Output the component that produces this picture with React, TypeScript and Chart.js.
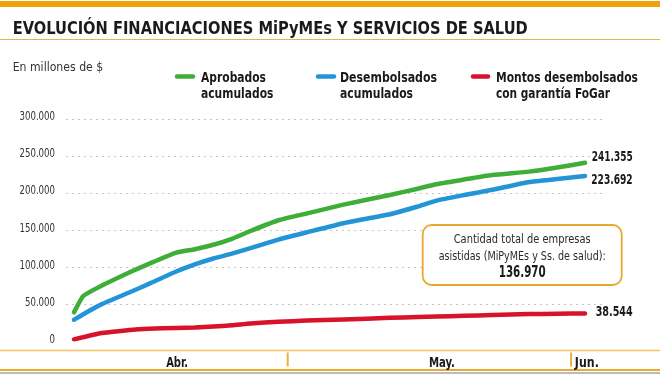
import React, { useEffect, useRef } from "react";
import { Chart, registerables } from "chart.js";

Chart.register(...registerables);

// Day number (1 = 1 April)
const days = [8, 9, 11, 14, 16, 19, 21, 23, 25, 27, 30, 33, 37, 42, 45, 47, 50, 53, 57, 60, 63];
const aprobados = [40000, 62000, 76000, 94000, 105000, 120500, 125000, 131000, 139000, 149500, 164000, 173000, 185000, 198000, 206500, 212500, 219000, 225000, 229500, 235000, 241355];
const desembolsados = [30000, 37500, 51000, 67000, 78000, 95000, 104500, 112500, 119000, 126500, 138000, 147500, 160000, 172000, 182500, 190500, 198000, 205000, 215500, 219500, 223692];
const fogar = [3600, 6500, 12000, 16300, 18000, 19000, 19500, 20800, 22500, 25000, 27200, 28900, 30300, 32600, 33600, 34200, 35400, 36300, 37600, 38100, 38544];

const yTicks = [0, 50000, 100000, 150000, 200000, 250000, 300000];
const monthNames = ["Abr.", "May.", "Jun."];
const monthLabelDays = [19.1, 47.6, 63.2];
const monthBoundaryDays = [31, 61.5];

const seriesNames = [
  ["Aprobados", "acumulados"],
  ["Desembolsados", "acumulados"],
  ["Montos desembolsados", "con garantía FoGar"],
];
const titleText = "EVOLUCIÓN FINANCIACIONES MiPyMEs Y SERVICIOS DE SALUD";
const unitLabel = "En millones de $";
const boxLines = ["Cantidad total de empresas", "asistidas (MiPyMEs y Ss. de salud):"];
const totalEmpresas = 136970;

const GREEN = "#3fae38";
const BLUE = "#2395d6";
const RED = "#d7122b";
const ORANGE = "#f0a20c";
const GOLD = "#eab24c";
const NARROW = '"Liberation Sans Narrow", "DejaVu Sans Condensed", "Roboto Condensed", Roboto, sans-serif';

const fmt = (v: number) => Math.round(v).toString().replace(/\B(?=(\d{3})+(?!\d))/g, ".");

function fitText(
  ctx: CanvasRenderingContext2D,
  text: string,
  x: number,
  y: number,
  font: string,
  color: string,
  width: number | null,
  align: "left" | "center" | "right" = "left",
  baseline: CanvasTextBaseline = "alphabetic",
  scaleX?: number
) {
  ctx.save();
  ctx.font = font;
  ctx.fillStyle = color;
  ctx.textBaseline = baseline;
  ctx.textAlign = "left";
  const w = ctx.measureText(text).width;
  const sx = scaleX ? scaleX : width ? width / w : 1;
  const dw = w * sx;
  const x0 = align === "left" ? x : align === "center" ? x - dw / 2 : x - dw;
  ctx.translate(x0, y);
  ctx.scale(sx, 1);
  ctx.fillText(text, 0, 0);
  ctx.restore();
}

const decor = {
  id: "decor",
  beforeDraw(chart: any) {
    const ctx = chart.ctx as CanvasRenderingContext2D;
    ctx.save();
    ctx.fillStyle = "#ffffff";
    ctx.fillRect(0, 0, chart.width, chart.height);
    ctx.restore();
  },
  afterDraw(chart: any) {
    const ctx = chart.ctx as CanvasRenderingContext2D;
    const xs = chart.scales.x;
    const ys = chart.scales.y;
    const W = chart.width;

    // top orange bar
    ctx.save();
    ctx.fillStyle = ORANGE;
    ctx.fillRect(0, 1, W, 6);
    ctx.strokeStyle = GOLD;
    ctx.lineWidth = 1.2;
    ctx.beginPath();
    ctx.moveTo(0, 39.5);
    ctx.lineTo(W, 39.5);
    ctx.stroke();
    ctx.restore();

    // title
    fitText(ctx, titleText, 12.7, 34, `bold 18.5px ${NARROW}`, "#1a1a1a", 515);
    fitText(ctx, unitLabel, 12.7, 70.7, `12.5px ${NARROW}`, "#333333", 90.5);

    // y tick labels (positions from the y scale)
    ctx.save();
    ctx.font = `13px ${NARROW}`;
    const tickSx = 35.5 / ctx.measureText("300.000").width;
    ctx.restore();
    yTicks.forEach((v) => {
      const y = ys.getPixelForValue(v) - 2.5;
      fitText(ctx, fmt(v), 55, y, `13px ${NARROW}`, "#333333", null, "right", "middle", tickSx);
    });

    // legend
    const legendCols = [
      { color: GREEN, x1: 175, x2: 195, tx: 201, widths: [65, 72.5] },
      { color: BLUE, x1: 316, x2: 336, tx: 340, widths: [97, 73] },
      { color: RED, x1: 471, x2: 490, tx: 496, widths: [142, 114] },
    ];
    legendCols.forEach((c, i) => {
      ctx.save();
      ctx.strokeStyle = c.color;
      ctx.lineWidth = 4.5;
      ctx.lineCap = "round";
      ctx.beginPath();
      ctx.moveTo(c.x1 + 2, 76.5);
      ctx.lineTo(c.x2 - 2, 76.5);
      ctx.stroke();
      ctx.restore();
      fitText(ctx, seriesNames[i][0], c.tx, 82, `bold 14px ${NARROW}`, "#1a1a1a", c.widths[0]);
      fitText(ctx, seriesNames[i][1], c.tx, 97.7, `bold 14px ${NARROW}`, "#1a1a1a", c.widths[1]);
    });

    // end labels
    const ends = [
      { v: aprobados[aprobados.length - 1], dy: -5.5, w: 41 },
      { v: desembolsados[desembolsados.length - 1], dy: 5, w: 41.5 },
      { v: fogar[fogar.length - 1], dy: -0.5, w: 37 },
    ];
    ends.forEach((e) => {
      const y = ys.getPixelForValue(e.v) + e.dy;
      fitText(ctx, fmt(e.v), 632.7, y, `bold 13.5px ${NARROW}`, "#1a1a1a", e.w, "right", "middle");
    });

    // info box
    const bx = 422.7, by = 225, bw = 199, bh = 60, r = 9;
    ctx.save();
    ctx.beginPath();
    ctx.roundRect(bx, by, bw, bh, r);
    ctx.fillStyle = "#ffffff";
    ctx.fill();
    ctx.strokeStyle = "#e9a92e";
    ctx.lineWidth = 1.8;
    ctx.stroke();
    ctx.restore();
    const cx = bx + bw / 2;
    fitText(ctx, boxLines[0], cx, 243.3, `13px ${NARROW}`, "#2a2a2a", 137, "center");
    fitText(ctx, boxLines[1], cx, 260, `13px ${NARROW}`, "#2a2a2a", 167, "center");
    fitText(ctx, fmt(totalEmpresas), cx, 277.3, `bold 15.5px ${NARROW}`, "#1a1a1a", 47, "center");

    // x band
    ctx.save();
    ctx.strokeStyle = "#f3c46a";
    ctx.lineWidth = 1.5;
    ctx.beginPath();
    ctx.moveTo(0, 350.5);
    ctx.lineTo(W, 350.5);
    ctx.stroke();
    ctx.strokeStyle = "#eeaa30";
    ctx.lineWidth = 2.2;
    ctx.beginPath();
    ctx.moveTo(0, 370);
    ctx.lineTo(W, 370);
    ctx.stroke();
    ctx.strokeStyle = "#a5a5a5";
    ctx.lineWidth = 1.5;
    ctx.beginPath();
    ctx.moveTo(0, 373);
    ctx.lineTo(W, 373);
    ctx.stroke();
    ctx.strokeStyle = "#f0b040";
    ctx.lineWidth = 2;
    monthBoundaryDays.forEach((d) => {
      const x = xs.getPixelForValue(d);
      ctx.beginPath();
      ctx.moveTo(x, 352.5);
      ctx.lineTo(x, 366.5);
      ctx.stroke();
    });
    ctx.restore();
    const mw = [22, 26, 24];
    monthNames.forEach((m, i) => {
      const x = xs.getPixelForValue(monthLabelDays[i]);
      fitText(ctx, m, x, 366.5, `bold 14px ${NARROW}`, "#1a1a1a", mw[i], "center");
    });
  },
};

export default function App() {
  const ref = useRef<HTMLCanvasElement | null>(null);
  useEffect(() => {
    if (!ref.current) return;
    const mk = (data: number[], color: string) => ({
      data: days.map((d, i) => ({ x: d, y: data[i] })),
      borderColor: color,
      backgroundColor: color,
      borderWidth: 4.5,
      pointRadius: 0,
      tension: 0.15,
      borderCapStyle: "round" as const,
      borderJoinStyle: "round" as const,
      fill: false,
    });
    const chart = new Chart(ref.current, {
      type: "line",
      data: {
        datasets: [
          { label: seriesNames[2].join(" "), ...mk(fogar, RED) },
          { label: seriesNames[1].join(" "), ...mk(desembolsados, BLUE) },
          { label: seriesNames[0].join(" "), ...mk(aprobados, GREEN) },
        ],
      },
      options: {
        responsive: false,
        animation: false,
        devicePixelRatio: 1,
        layout: { padding: { left: 0, right: 55, top: 119.3, bottom: 35 } },
        plugins: {
          legend: { display: false },
          tooltip: { enabled: false },
          title: { display: false },
        },
        scales: {
          x: { type: "linear", min: 7.139, max: 65.152, display: false },
          y: {
            min: 0,
            max: 300000,
            afterFit: (s: any) => {
              s.width = 66;
            },
            afterBuildTicks: (s: any) => {
              s.ticks = yTicks.map((v) => ({ value: v }));
            },
            grid: {
              color: (c: any) => (c.tick && c.tick.value === 0 ? "rgba(0,0,0,0)" : "#c4c4c4"),
              drawTicks: false,
              lineWidth: 1,
            },
            border: { display: false, dash: [2, 4] },
            ticks: { display: false },
          },
        },
      },
      plugins: [decor],
    });
    return () => chart.destroy();
  }, []);
  return (
    <div style={{ position: "absolute", left: 0, top: 0, width: 660, height: 377 }}>
      <canvas ref={ref} width={660} height={377} style={{ display: "block" }} />
    </div>
  );
}
